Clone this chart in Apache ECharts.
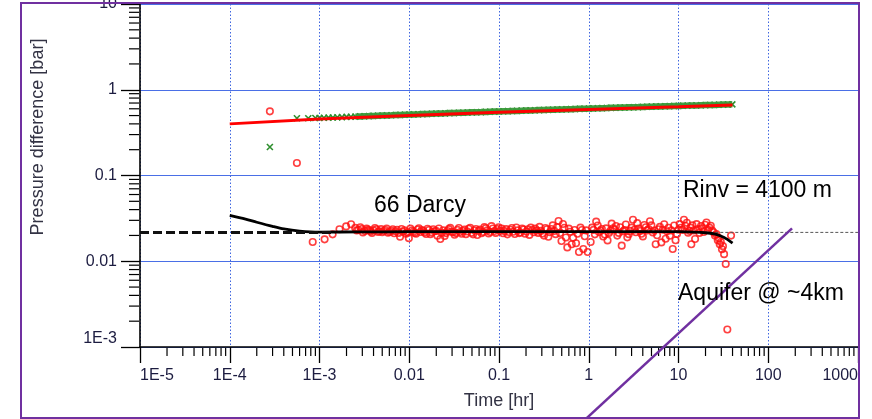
<!DOCTYPE html>
<html>
<head>
<meta charset="utf-8">
<script src="https://cdn.jsdelivr.net/npm/echarts@6/dist/echarts.min.js"></script>
<style>
html,body{margin:0;padding:0;background:#fff;}
#c{width:872px;height:419px;}
</style>
</head>
<body>
<div id="c"></div>
<script>
// ---------- tick labels ----------
const xTickLabels = ['1E-5','1E-4','1E-3','0.01','0.1','1','10','100','1000']; // exponents -5..3
const yTickLabels = ['1E-3','0.01','0.1','1','10']; // exponents -3..1

// ---------- pressure change (green x) ----------
const dpTime = [2.8e-4,5.6e-4,7.5e-4,9e-4,
 1.0e-3,1.12e-3,1.26e-3,1.41e-3,1.58e-3,1.78e-3,2.0e-3,2.24e-3,2.51e-3,2.82e-3,3.16e-3,3.55e-3,3.98e-3,4.47e-3,5.01e-3,5.62e-3,6.31e-3,7.08e-3,7.94e-3,8.91e-3,
 0.010,0.0112,0.0126,0.0141,0.0158,0.0178,0.020,0.0224,0.0251,0.0282,0.0316,0.0355,0.0398,0.0447,0.0501,0.0562,0.0631,0.0708,0.0794,0.0891,
 0.10,0.112,0.126,0.141,0.158,0.178,0.20,0.224,0.251,0.282,0.316,0.355,0.398,0.447,0.501,0.562,0.631,0.708,0.794,0.891,
 1.0,1.12,1.26,1.41,1.58,1.78,2.0,2.24,2.51,2.82,3.16,3.55,3.98,4.47,5.01,5.62,6.31,7.08,7.94,8.91,
 10,11.2,12.6,14.1,15.8,17.8,20,22.4,25.1,28.2,31.6,35.5,39.8];
const dpValue = [0.215,0.465,0.465,0.468,
 0.469,0.471,0.473,0.475,0.477,0.480,0.482,0.484,0.486,0.489,0.491,0.493,0.495,0.498,0.500,0.502,0.504,0.507,0.509,0.511,
 0.513,0.516,0.518,0.520,0.522,0.525,0.527,0.529,0.531,0.534,0.536,0.538,0.540,0.543,0.545,0.547,0.549,0.552,0.554,0.556,
 0.558,0.561,0.563,0.565,0.567,0.570,0.572,0.574,0.576,0.579,0.581,0.583,0.585,0.588,0.590,0.592,0.594,0.597,0.599,0.601,
 0.603,0.606,0.608,0.610,0.612,0.615,0.617,0.619,0.621,0.624,0.626,0.628,0.630,0.633,0.635,0.637,0.639,0.642,0.644,0.646,
 0.648,0.651,0.653,0.655,0.657,0.660,0.662,0.664,0.666,0.669,0.671,0.673,0.676];

// ---------- pressure model (red line) ----------
const dpModelTime = [1e-4,1e-3,0.01,0.1,1,10,40];
const dpModelValue = [0.40,0.455,0.50,0.545,0.59,0.635,0.665];

// ---------- derivative (red circles) ----------
const derivTime = [2.8e-4,5.6e-4,8.4e-4,1.14e-3,1.4e-3,1.67e-3,1.98e-3,2.25e-3,
 2.5e-3,2.7e-3,2.95e-3,3.2e-3,3.45e-3,3.7e-3,4.0e-3,4.3e-3,4.65e-3,5.0e-3,5.4e-3,5.8e-3,6.3e-3,6.8e-3,7.3e-3,7.9e-3,8.5e-3,9.2e-3,9.9e-3,
 0.0107,0.0115,0.0124,0.0133,0.0143,0.0154,0.0166,0.0178,0.0192,0.0206,0.0222,0.0239,0.0257,0.0276,0.0297,0.032,0.0344,0.037,0.0398,0.0428,0.046,0.0495,0.0533,0.0573,0.0616,0.0663,0.0713,0.0767,0.0825,0.0887,0.0954,
 0.103,0.111,0.12,0.129,0.139,0.15,0.162,0.174,0.188,0.202,0.218,0.235,0.253,0.273,0.294,0.317,0.342,0.368,0.397,0.428,0.461,0.497,0.535,0.577,0.622,0.67,0.722,0.778,0.838,0.903,0.973,
 1.05,1.13,1.21,1.3,1.4,1.51,1.62,1.74,1.87,2.01,2.16,2.33,2.5,2.69,2.89,3.11,3.35,3.6,3.87,4.16,4.48,4.81,5.18,5.57,5.99,6.44,6.93,7.45,8.01,8.62,9.27,9.97,
 10.7,11.5,12.4,13.3,13.9,14.3,15.3,16.5,17.8,19.1,20.5,22.1,23.7,25.5,27.4,28.8,30.5,32.2,33.6,35.0,38.5];
const derivValue = [0.56,0.14,0.0168,0.018,0.0206,0.0236,0.0255,0.027,
 0.0245,0.0232,0.0238,0.0226,0.0234,0.0222,0.0229,0.0236,0.0224,0.0218,0.0231,0.0215,0.0227,0.0212,0.0233,0.0193,0.0221,0.0209,0.0186,
 0.0228,0.0214,0.0235,0.0219,0.0226,0.0208,0.0231,0.0217,0.0224,0.0198,0.0182,0.0229,0.0213,0.0237,0.0221,0.0204,0.0232,0.0219,0.0226,0.0207,0.0239,0.0215,0.0228,0.0202,0.0234,0.0219,0.0243,0.0211,0.0257,0.0225,0.0238,
 0.0226,0.0212,0.0237,0.0219,0.0244,0.0208,0.0229,0.0216,0.0235,0.0222,0.0203,0.0231,0.0241,0.0214,0.0226,0.0199,0.0236,0.0218,0.0262,0.0207,0.0295,0.0172,0.0246,0.0145,0.0221,0.0188,0.0162,0.0128,0.0231,0.0196,0.0128,
 0.0168,0.0232,0.029,0.0219,0.0238,0.0205,0.0175,0.0227,0.0243,0.0258,0.0214,0.0152,0.0231,0.019,0.0226,0.0305,0.0218,0.024,0.0209,0.0265,0.0229,0.0293,0.0217,0.0158,0.0236,0.0166,0.027,0.0224,0.0198,0.0139,0.0176,0.0233,
 0.0246,0.0305,0.0281,0.0225,0.0158,0.0262,0.0182,0.0237,0.0258,0.0219,0.0283,0.0247,0.0228,0.0199,0.0176,0.0158,0.0138,0.0121,0.0093,0.0016,0.0199];
// second, interleaved set of derivative points
const derivTimeB = [2.6e-3,2.85e-3,3.05e-3,3.35e-3,3.6e-3,3.85e-3,4.15e-3,4.5e-3,4.85e-3,5.2e-3,5.6e-3,6.05e-3,6.55e-3,7.05e-3,7.6e-3,8.2e-3,8.85e-3,9.55e-3,
 0.0103,0.0111,0.0119,0.0128,0.0138,0.0148,0.016,0.0172,0.0185,0.0199,0.0214,0.023,0.0248,0.0266,0.0286,0.0308,0.0332,0.0357,0.0384,0.0413,0.0444,0.0477,0.0514,0.0553,0.0594,0.0639,0.0688,0.074,0.0796,0.0856,0.092,0.099,
 0.107,0.115,0.124,0.134,0.144,0.156,0.168,0.181,0.195,0.21,0.226,0.244,0.263,0.283,0.305,0.329,0.355,0.382,0.412,0.444,0.479,0.516,0.556,0.6,0.646,0.696,0.75,0.808,0.87,0.937,
 1.09,1.17,1.26,1.35,1.45,1.56,1.68,1.8,1.94,2.08,2.24,2.41,2.59,2.79,3.0,3.23,3.47,3.73,4.01,4.32,4.64,4.99,5.37,5.78,6.21,6.68,7.19,7.73,8.32,8.95,9.62,
 10.3,11.1,11.9,12.8,13.6,14.8,15.9,17.1,18.4,19.8,21.3,22.9,24.6,26.4,28.1,29.6,31.3];
const derivValueB = [0.0228,0.0249,0.0217,0.0241,0.0230,0.0214,0.0244,0.0219,0.0237,0.0225,0.0240,0.0220,0.0236,0.0224,0.0214,0.0238,0.0229,0.0217,
 0.0240,0.0221,0.0209,0.0243,0.0231,0.0216,0.0239,0.0207,0.0236,0.0226,0.0241,0.0215,0.0197,0.0225,0.0245,0.0218,0.0213,0.0244,0.0209,0.0235,0.0222,0.0246,0.0206,0.0238,0.0226,0.0212,0.0250,0.0229,0.0219,0.0241,0.0214,0.0249,
 0.0241,0.0225,0.0206,0.0233,0.0221,0.0248,0.0213,0.0240,0.0209,0.0236,0.0247,0.0218,0.0229,0.0252,0.0211,0.0244,0.0193,0.0238,0.0226,0.0250,0.0213,0.0272,0.0189,0.0240,0.0158,0.0231,0.0209,0.0247,0.0139,0.0229,
 0.0247,0.0206,0.0261,0.0228,0.0194,0.0242,0.0214,0.0275,0.0233,0.0199,0.0249,0.0224,0.0268,0.0207,0.0247,0.0233,0.0278,0.0226,0.0195,0.0249,0.0237,0.0262,0.0228,0.0201,0.0252,0.0233,0.0183,0.0246,0.0229,0.0261,0.0208,
 0.0271,0.0232,0.0259,0.0215,0.0247,0.0229,0.0271,0.0214,0.0243,0.0266,0.0232,0.0259,0.0218,0.0207,0.0186,0.0168,0.0150];

// ---------- derivative model (black line) ----------
const derivModelTime = [1e-4,1.5e-4,2e-4,3e-4,4e-4,6e-4,1e-3,3e-3,0.01,0.1,1,5,10,15,20,25,30,35,40];
const derivModelValue = [0.0342,0.031,0.0285,0.0255,0.0238,0.0225,0.0219,0.022,0.0221,0.0222,0.0222,0.0222,0.0221,0.0219,0.0215,0.0208,0.0196,0.018,0.0163];

// ---------- stabilisation line ----------
const stabLevel = 0.0217;
const stabThickTime = [1e-5, 1.5e-3];
const stabThinTime = [1.5e-3, 1e3];

// ---------- annotation line (Aquifer) ----------
const aquiferTime = [0.79, 184];
const aquiferValue = [1.24e-4, 0.0242];

// ---------- build ----------
const zip = (a, b) => a.map((t, i) => [t, b[i]]);
const dpData = zip(dpTime, dpValue);
const dpBand = dpData.filter(d => d[0] >= 2.5e-3);
const derivData = zip(derivTime, derivValue).concat(zip(derivTimeB, derivValueB));

const xMinor = [];
for (let e = -5; e < 3; e++) for (let k = 2; k <= 9; k++) xMinor.push([k * Math.pow(10, e), 1e-3]);
const yMinor = [];
for (let e = -3; e < 1; e++) for (let k = 2; k <= 9; k++) yMinor.push([1e-5, k * Math.pow(10, e)]);

const labelFont = {fontFamily: 'Liberation Sans', fontSize: 16, color: '#1c1c40'};
const expIdx = v => Math.round(Math.log10(v));

const chart = echarts.init(document.getElementById('c'), null, {renderer: 'canvas'});
chart.setOption({
  animation: false,
  backgroundColor: '#ffffff',
  grid: {left: 140, right: 14, top: 4, bottom: 72, outerBoundsMode: 'none', containLabel: false},
  xAxis: {
    type: 'log', logBase: 10, min: 1e-5, max: 1e3, interval: 1,
    name: 'Time [hr]', nameLocation: 'middle', nameGap: 45,
    nameTextStyle: {fontFamily: 'Liberation Sans', fontSize: 18, color: '#333344'},
    axisLine: {show: true, onZero: false, lineStyle: {color: '#000', width: 1.6}},
    axisTick: {show: true, length: 16, lineStyle: {color: '#000', width: 1.3}},
    axisLabel: Object.assign({margin: 21, showMinLabel: true, showMaxLabel: true,
      alignMinLabel: 'left', alignMaxLabel: 'right',
      formatter: v => xTickLabels[expIdx(v) + 5]}, labelFont),
    splitLine: {show: true, lineStyle: {color: '#3f66e0', width: 1, type: [1.5, 2]}},
    minorTick: {show: false}
  },
  yAxis: {
    type: 'log', logBase: 10, min: 1e-3, max: 10, interval: 1,
    axisLine: {show: true, onZero: false, lineStyle: {color: '#000', width: 1.6}},
    axisTick: {show: true, length: 19, lineStyle: {color: '#000', width: 1.3}},
    axisLabel: Object.assign({margin: 23, showMinLabel: true, showMaxLabel: true,
      verticalAlignMinLabel: 'bottom',
      formatter: v => yTickLabels[expIdx(v) + 3]}, labelFont),
    splitLine: {show: true, lineStyle: {color: '#4a6fe6', width: 1.2, type: 'solid'}},
    minorTick: {show: false}
  },
  series: [
    {type: 'custom', silent: true, clip: false, data: xMinor, z: 5,
      renderItem: (p, api) => {
        const c = api.coord([api.value(0), api.value(1)]);
        return {type: 'line', shape: {x1: c[0], y1: c[1] + 1, x2: c[0], y2: c[1] + 9}, style: {stroke: '#000', lineWidth: 1.2}};
      }},
    {type: 'custom', silent: true, clip: false, data: yMinor, z: 5,
      renderItem: (p, api) => {
        const c = api.coord([api.value(0), api.value(1)]);
        return {type: 'line', shape: {x1: c[0] - 1, y1: c[1], x2: c[0] - 11, y2: c[1]}, style: {stroke: '#000', lineWidth: 1.2}};
      }},
    {name: 'stabThin', type: 'line', data: stabThinTime.map(t => [t, stabLevel]), showSymbol: false,
      lineStyle: {color: '#555', width: 1, type: [3, 2]}},
    {name: 'dpBand', type: 'line', data: dpBand, showSymbol: false,
      lineStyle: {color: '#3a9a3a', width: 6.5, opacity: 0.95}},
    {name: 'dp', type: 'scatter', data: dpData,
      symbol: 'path://M0,0L10,10M10,0L0,10', symbolSize: 6,
      itemStyle: {color: 'rgba(0,0,0,0)', borderColor: '#2e8f2e', borderWidth: 1.6, opacity: 1}},
    {name: 'dpModel', type: 'line', data: zip(dpModelTime, dpModelValue), showSymbol: false,
      lineStyle: {color: '#ff0000', width: 3}},
    {name: 'deriv', type: 'scatter', data: derivData,
      symbol: 'circle', symbolSize: 6.5,
      itemStyle: {color: 'rgba(0,0,0,0)', borderColor: '#ff1010', borderWidth: 1.6}},
    {name: 'derivModel', type: 'line', data: zip(derivModelTime, derivModelValue), showSymbol: false, smooth: 0.3,
      lineStyle: {color: '#000', width: 2.8}},
    {name: 'stabThick', type: 'line', data: stabThickTime.map(t => [t, stabLevel]), showSymbol: false,
      lineStyle: {color: '#111', width: 3, type: [9, 4]}},
    {name: 'aquifer', type: 'line', data: zip(aquiferTime, aquiferValue), showSymbol: false, clip: false,
      lineStyle: {color: '#7030a0', width: 2.5}, z: 10}
  ],
  graphic: [
    {type: 'rect', shape: {x: 21, y: 3, width: 838, height: 415}, style: {fill: 'none', stroke: '#7030a0', lineWidth: 2}, z: 20, silent: true},
    {type: 'text', x: 38, y: 137, rotation: Math.PI / 2, z: 20,
      style: {text: 'Pressure difference [bar]', font: '18px "Liberation Sans"', fill: '#333344', align: 'center', verticalAlign: 'middle'}},
    {type: 'text', x: 374, y: 206, z: 20,
      style: {text: '66 Darcy', font: '23px "Liberation Sans"', fill: '#000', align: 'left', verticalAlign: 'middle'}},
    {type: 'text', x: 683, y: 191, z: 20,
      style: {text: 'Rinv = 4100 m', font: '23px "Liberation Sans"', fill: '#000', align: 'left', verticalAlign: 'middle'}},
    {type: 'text', x: 678, y: 294, z: 20,
      style: {text: 'Aquifer @ ~4km', font: '23px "Liberation Sans"', fill: '#000', align: 'left', verticalAlign: 'middle'}}
  ]
});
</script>
</body>
</html>
